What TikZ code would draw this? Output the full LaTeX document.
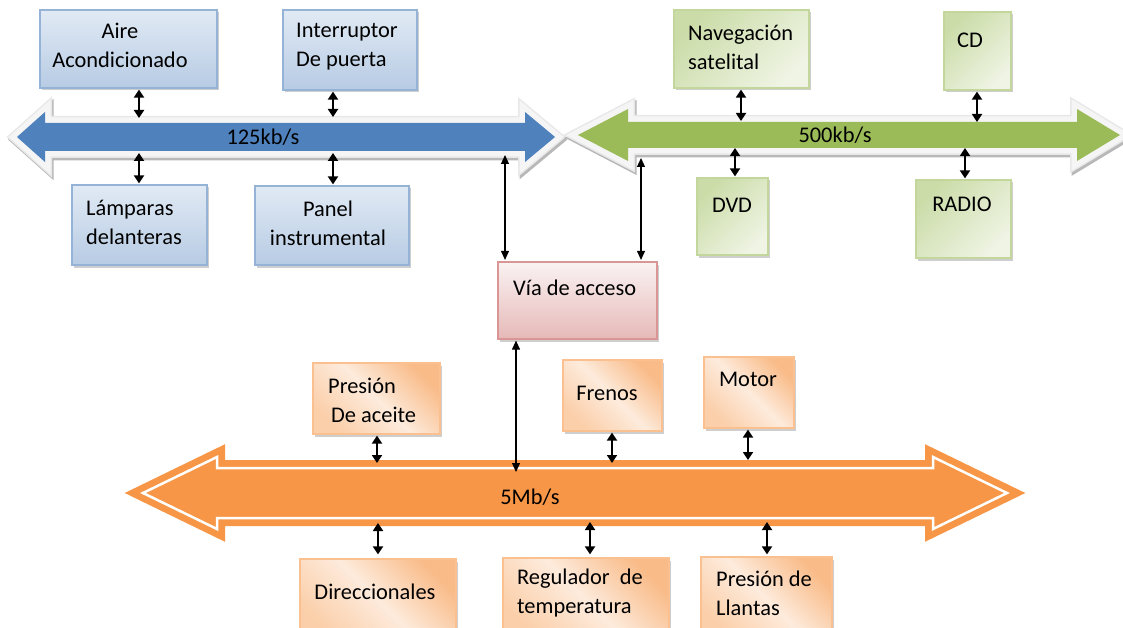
\documentclass[tikz,border=0pt]{standalone}
\usepackage{fontspec}
\setmainfont{Carlito}
\usetikzlibrary{arrows.meta,shadows}

\definecolor{busblue}{HTML}{4F81BD}
\definecolor{busgreen}{HTML}{9BBB59}
\definecolor{busorange}{HTML}{F79646}
\definecolor{bbord}{HTML}{95B3D7}
\definecolor{btop}{HTML}{E1EAF4}
\definecolor{bbot}{HTML}{B7CBE4}
\definecolor{gbord}{HTML}{C3D69B}
\definecolor{gdark}{HTML}{CBDCA8}
\definecolor{glight}{HTML}{EFF4E4}
\definecolor{obord}{HTML}{FAC090}
\definecolor{odark}{HTML}{F9BB88}
\definecolor{olight}{HTML}{FDEBDC}
\definecolor{obot}{HTML}{FBCFAA}
\definecolor{pbord}{HTML}{D99694}
\definecolor{ptop}{HTML}{FAF2F2}
\definecolor{pbot}{HTML}{E6B9B8}

\tikzset{
  txt/.style={font=\fontsize{22.4}{29}\selectfont, inner sep=0pt, text=black},
  box/.style={draw, line width=1.2pt, inner sep=0pt,
    drop shadow={shadow xshift=2pt, shadow yshift=-2.5pt, opacity=.35, fill=black!55}},
  bluebox/.style={box, draw=bbord, top color=btop, bottom color=bbot},
  greenbox/.style={box, draw=gbord, top color=gdark, bottom color=glight, shading angle=45},
  orangebox/.style={box, draw=obord, top color=odark, bottom color=obot, middle color=olight, shading angle=-45},
  pinkbox/.style={box, draw=pbord, top color=ptop, bottom color=pbot},
  conn/.style={line width=1.8pt, black, {Triangle[width=10pt,length=8pt]}-{Triangle[width=10pt,length=8pt]}},
  longconn/.style={line width=1.1pt, black, {Triangle[width=8pt,length=9pt]}-{Triangle[width=8pt,length=9pt]}},
  bluebus/.style={insert path={(17,137) -- (45,112) -- (45,123) -- (525,123) -- (525,112) -- (555,137)
      -- (525,162) -- (525,151) -- (45,151) -- (45,162) -- cycle}},
  greenbus/.style={insert path={(578,135) -- (628,109) -- (628,122) -- (1077,122) -- (1077,109) -- (1120,135)
      -- (1077,161) -- (1077,148) -- (628,148) -- (628,161) -- cycle}},
  orangebus/.style={insert path={(143,493) -- (217,457) -- (217,468) -- (933,468) -- (933,457) -- (1007,493)
      -- (933,529) -- (933,518) -- (217,518) -- (217,529) -- cycle}},
}

\begin{document}
\begin{tikzpicture}[x=1pt, y=-1pt, line join=miter]
\useasboundingbox (0,0) rectangle (1123,628);
\clip (0,0) rectangle (1123,628);

% ---- the three buses: shadow, pale rim, fill ----
\filldraw[draw=black!28, fill=black!28, line width=14pt, shift={(1.5,2.5)}, bluebus];
\filldraw[draw=black!9, fill=black!9, line width=14pt, bluebus];
\draw[white!96!black, line width=11pt, bluebus];
\fill[busblue, bluebus];

\filldraw[draw=black!28, fill=black!28, line width=14pt, shift={(1.5,2.5)}, greenbus];
\filldraw[draw=black!9, fill=black!9, line width=14pt, greenbus];
\draw[white!96!black, line width=11pt, greenbus];
\fill[busgreen, greenbus];

\filldraw[draw=busorange, fill=busorange, line width=16pt, orangebus];
\draw[white, line width=2.5pt, orangebus];

\node[txt] (b125) at (263,137) {125kb/s};
\node[txt] (b500) at (835,135) {500kb/s};
\node[txt] (b5m) at (530,497) {5Mb/s};

% ---- blue units ----
\node[bluebox, minimum width=177pt, minimum height=78pt] (aire) at (128.5,49) {};
\node[txt, align=center] (airet) at (120,45) {Aire\\Acondicionado};
\node[bluebox, minimum width=134pt, minimum height=80pt] (inter) at (350,50) {};
\node[txt, align=left, anchor=west] (intert) at (296,47) {Interruptor\\De puerta};
\node[bluebox, minimum width=135pt, minimum height=80pt] (lamp) at (139.5,225) {};
\node[txt, align=left, anchor=west] (lampt) at (86,222) {Lámparas\\delanteras};
\node[bluebox, minimum width=154pt, minimum height=79pt] (panel) at (332,225.5) {};
\node[txt, align=center] (panelt) at (328,223) {Panel\\instrumental};

% ---- green units ----
\node[greenbox, minimum width=135pt, minimum height=78pt] (nav) at (741.5,49) {};
\node[txt, align=left, anchor=west] (navt) at (688,47) {Navegación\\satelital};
\node[greenbox, minimum width=67pt, minimum height=78pt] (cd) at (977.5,51) {};
\node[txt] (cdt) at (970,40) {CD};
\node[greenbox, minimum width=71pt, minimum height=77pt] (dvd) at (732.5,216.5) {};
\node[txt] (dvdt) at (732,205) {DVD};
\node[greenbox, minimum width=95pt, minimum height=78pt] (radio) at (963.5,219) {};
\node[txt] (radiot) at (962,204) {RADIO};

% ---- gateway ----
\node[pinkbox, minimum width=159pt, minimum height=77pt] (via) at (577.5,300.5) {};
\node[txt, anchor=west] (viat) at (513,288) {Vía de acceso};

% ---- orange units ----
\node[orangebox, minimum width=127pt, minimum height=71pt] (aceite) at (376.5,398.5) {};
\node[txt, align=left, anchor=west] (aceitet) at (328,400) {Presión\\\hspace*{3pt}De aceite};
\node[orangebox, minimum width=99pt, minimum height=71pt] (frenos) at (612.5,395.5) {};
\node[txt] (frenost) at (607,393) {Frenos};
\node[orangebox, minimum width=90pt, minimum height=71pt] (motor) at (749,392.5) {};
\node[txt] (motort) at (748,379) {Motor};
\node[orangebox, minimum width=156pt, minimum height=81pt] (direc) at (378,599.5) {};
\node[txt] (direct) at (375,592) {Direccionales};
\node[orangebox, minimum width=166pt, minimum height=82pt] (regul) at (586,599) {};
\node[txt, align=left, anchor=west] (regult) at (517,593) {Regulador\ \ de\\temperatura};
\node[orangebox, minimum width=131pt, minimum height=83pt] (llant) at (766.5,598.5) {};
\node[txt, align=left, anchor=west] (llantt) at (716,593) {Presión de\\Llantas};

% ---- bus attachment points ----
\coordinate (aireB) at (139,118);
\coordinate (interB) at (333,117);
\coordinate (lampB) at (139,153);
\coordinate (panelB) at (333,153);
\coordinate (viaBL) at (505,155);
\coordinate (navB) at (741,121);
\coordinate (cdB) at (977,122);
\coordinate (dvdB) at (735,148);
\coordinate (radioB) at (965,148);
\coordinate (viaBR) at (641,158);
\coordinate (viaBO) at (516,472);
\coordinate (aceiteB) at (377,463);
\coordinate (frenosB) at (612,463);
\coordinate (motorB) at (748,460);
\coordinate (direcB) at (378,523);
\coordinate (regulB) at (590,522);
\coordinate (llantB) at (767,522);

% ---- connectors ----
\draw[conn, shorten <=1pt] (aire.south -| aireB) -- (aireB);
\draw[conn, shorten <=1pt] (inter.south -| interB) -- (interB);
\draw[conn] (lampB) -- ([yshift=1pt]lamp.north -| lampB);
\draw[conn] (panelB) -- ([yshift=1pt]panel.north -| panelB);
\draw[conn, shorten <=1pt] (nav.south -| navB) -- (navB);
\draw[conn, shorten <=1pt] (cd.south -| cdB) -- (cdB);
\draw[conn] (dvdB) -- ([yshift=1pt]dvd.north -| dvdB);
\draw[conn] (radioB) -- ([yshift=1pt]radio.north -| radioB);

\draw[longconn] (viaBL) -- ([yshift=1.5pt]via.north -| viaBL);
\draw[longconn] (viaBR) -- ([yshift=1.5pt]via.north -| viaBR);
\draw[longconn] ([yshift=-1pt]via.south -| viaBO) -- (viaBO);

\draw[conn, shorten <=1pt] (aceite.south -| aceiteB) -- (aceiteB);
\draw[conn, shorten <=1pt] (frenos.south -| frenosB) -- (frenosB);
\draw[conn, shorten <=1pt] (motor.south -| motorB) -- (motorB);
\draw[conn] (direcB) -- ([yshift=4pt]direc.north -| direcB);
\draw[conn] (regulB) -- ([yshift=3pt]regul.north -| regulB);
\draw[conn] (llantB) -- ([yshift=2pt]llant.north -| llantB);
\end{tikzpicture}
\end{document}
